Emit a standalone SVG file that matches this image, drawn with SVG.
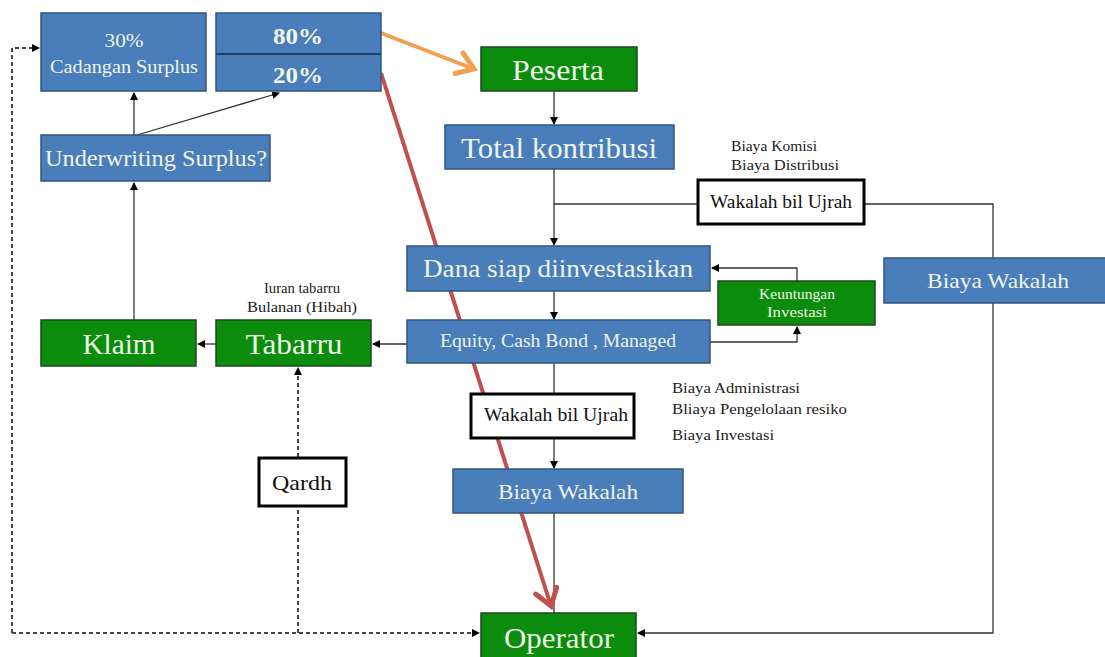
<svg xmlns="http://www.w3.org/2000/svg" width="1105" height="657" viewBox="0 0 1105 657">
<style>
.b{fill:#4a7ebb;stroke:#2f5584;stroke-width:1.5}
.g{fill:#0c8c0c;stroke:#1c4a1c;stroke-width:1.5}
.w{fill:#fff;stroke:#000;stroke-width:3}
.t{font-family:"Liberation Serif",serif;fill:#eef4e6;text-anchor:middle}
.k{font-family:"Liberation Serif",serif;fill:#111;text-anchor:middle}
.s{font-family:"Liberation Serif",serif;fill:#222;font-size:15px}
.c{fill:none;stroke:#333;stroke-width:1.3}
.d{fill:none;stroke:#444;stroke-width:2;stroke-dasharray:4 3}
</style>
<defs>
<marker id="a" markerWidth="8" markerHeight="8" refX="7" refY="4" orient="auto" markerUnits="userSpaceOnUse"><path d="M0,0L8,4L0,8z" fill="#000"/></marker>
<marker id="o" markerWidth="30" markerHeight="30" refX="24" refY="15" orient="auto" markerUnits="userSpaceOnUse"><path d="M8,4L24,15L8,26" fill="none" stroke="#f0a050" stroke-width="5" stroke-linecap="round"/></marker>
<marker id="r" markerWidth="30" markerHeight="30" refX="24" refY="15" orient="auto" markerUnits="userSpaceOnUse"><path d="M8,4L24,15L8,26" fill="none" stroke="#c0504d" stroke-width="5" stroke-linecap="round"/></marker>
</defs>
<rect width="1105" height="657" fill="#fff"/>
<g id="connectors">
<line class="c" x1="134" y1="135" x2="134" y2="93" marker-end="url(#a)"/>
<line class="c" x1="137" y1="135" x2="279" y2="93" marker-end="url(#a)"/>
<line class="c" x1="134" y1="320" x2="134" y2="183" marker-end="url(#a)"/>
<line class="c" x1="216" y1="344" x2="198" y2="344" marker-end="url(#a)"/>
<line class="c" x1="407" y1="344" x2="373" y2="344" marker-end="url(#a)"/>
<line class="c" x1="554" y1="91" x2="554" y2="124" marker-end="url(#a)"/>
<line class="c" x1="554" y1="169" x2="554" y2="245" marker-end="url(#a)"/>
<polyline class="c" points="554,204 698,204"/>
<polyline class="c" points="864,204 993,204 993,633 638,633" marker-end="url(#a)"/>
<line class="c" x1="554" y1="291" x2="554" y2="319" marker-end="url(#a)"/>
<polyline class="c" points="710,342 797,342 797,327" marker-end="url(#a)"/>
<polyline class="c" points="797,281 797,268 712,268" marker-end="url(#a)"/>
<line class="c" x1="554" y1="363" x2="554" y2="393"/>
<line class="c" x1="554" y1="438" x2="554" y2="468" marker-end="url(#a)"/>
<line class="c" x1="554" y1="513" x2="554" y2="613"/>
<polyline class="d" points="12,633 12,48 39,48" marker-end="url(#a)"/>
<polyline class="d" points="12,633 479,633" marker-end="url(#a)"/>
<polyline class="d" points="298,633 298,507"/>
<polyline class="d" points="298,457 298,368" marker-end="url(#a)"/>
<line x1="381" y1="33" x2="474" y2="69" stroke="#f0a050" stroke-width="4" marker-end="url(#o)"/>
<line x1="381" y1="73" x2="551" y2="606" stroke="#c0504d" stroke-width="4" marker-end="url(#r)"/>
</g>
<g id="n30"><rect class="b" x="41" y="13" width="165" height="78"/><text class="t" x="124" y="47" font-size="18" textLength="39" lengthAdjust="spacingAndGlyphs">30%</text><text class="t" x="124" y="73" font-size="19" textLength="148" lengthAdjust="spacingAndGlyphs">Cadangan Surplus</text></g>
<g id="n8020"><rect class="b" x="216" y="13" width="165" height="78"/><line x1="216" y1="54" x2="381" y2="54" stroke="#1f3f66" stroke-width="2"/><text class="t" x="298" y="44" font-size="23" font-weight="bold" textLength="50" lengthAdjust="spacingAndGlyphs">80%</text><text class="t" x="298" y="83" font-size="23" font-weight="bold" textLength="50" lengthAdjust="spacingAndGlyphs">20%</text></g>
<g id="nUnder"><rect class="b" x="41" y="135" width="229" height="46"/><text class="t" x="156" y="166" font-size="23" textLength="222" lengthAdjust="spacingAndGlyphs">Underwriting Surplus?</text></g>
<g id="nPeserta"><rect class="g" x="481" y="47" width="156" height="44"/><text class="t" x="558" y="80" font-size="29" textLength="92" lengthAdjust="spacingAndGlyphs">Peserta</text></g>
<g id="nTotal"><rect class="b" x="445" y="125" width="229" height="44"/><text class="t" x="559" y="158" font-size="29" textLength="196" lengthAdjust="spacingAndGlyphs">Total kontribusi</text></g>
<g id="lblKomisi"><text class="s" x="731" y="151" textLength="86" lengthAdjust="spacingAndGlyphs">Biaya Komisi</text><text class="s" x="731" y="170" textLength="108" lengthAdjust="spacingAndGlyphs">Biaya Distribusi</text></g>
<g id="nWak1"><rect class="w" x="698" y="180" width="166" height="44"/><text class="k" x="781" y="208" font-size="19" textLength="142" lengthAdjust="spacingAndGlyphs">Wakalah bil Ujrah</text></g>
<g id="nDana"><rect class="b" x="407" y="246" width="303" height="45"/><text class="t" x="558" y="277" font-size="26" textLength="270" lengthAdjust="spacingAndGlyphs">Dana siap diinvestasikan</text></g>
<g id="nKeun"><rect class="g" x="718" y="281" width="157" height="44"/><text class="t" x="797" y="299" font-size="14" textLength="76" lengthAdjust="spacingAndGlyphs">Keuntungan</text><text class="t" x="797" y="317" font-size="14" textLength="60" lengthAdjust="spacingAndGlyphs">Investasi</text></g>
<g id="nBW1"><rect class="b" x="884" y="258" width="225" height="45"/><text class="t" x="998" y="288" font-size="22" textLength="142" lengthAdjust="spacingAndGlyphs">Biaya Wakalah</text></g>
<g id="nEquity"><rect class="b" x="407" y="320" width="303" height="43"/><text class="t" x="558" y="347" font-size="19" textLength="236" lengthAdjust="spacingAndGlyphs">Equity, Cash Bond , Managed</text></g>
<g id="lblIuran"><text class="s" x="302" y="293" text-anchor="middle" textLength="76" lengthAdjust="spacingAndGlyphs">Iuran tabarru</text><text class="s" x="302" y="312" text-anchor="middle" textLength="110" lengthAdjust="spacingAndGlyphs">Bulanan (Hibah)</text></g>
<g id="nKlaim"><rect class="g" x="41" y="320" width="155" height="46"/><text class="t" x="119" y="354" font-size="30" textLength="73" lengthAdjust="spacingAndGlyphs">Klaim</text></g>
<g id="nTabarru"><rect class="g" x="216" y="320" width="155" height="46"/><text class="t" x="294" y="354" font-size="30" textLength="97" lengthAdjust="spacingAndGlyphs">Tabarru</text></g>
<g id="nWak2"><rect class="w" x="471" y="394" width="163" height="44"/><text class="k" x="556" y="421" font-size="19" textLength="144" lengthAdjust="spacingAndGlyphs">Wakalah bil Ujrah</text></g>
<g id="lblAdmin"><text class="s" x="672" y="393" textLength="128" lengthAdjust="spacingAndGlyphs">Biaya Administrasi</text><text class="s" x="672" y="414" textLength="175" lengthAdjust="spacingAndGlyphs">Bliaya Pengelolaan  resiko</text><text class="s" x="672" y="440" textLength="102" lengthAdjust="spacingAndGlyphs">Biaya Investasi</text></g>
<g id="nQardh"><rect class="w" x="259" y="458" width="87" height="48"/><text class="k" x="302" y="490" font-size="22" textLength="60" lengthAdjust="spacingAndGlyphs">Qardh</text></g>
<g id="nBW2"><rect class="b" x="453" y="469" width="230" height="44"/><text class="t" x="568" y="499" font-size="22" textLength="140" lengthAdjust="spacingAndGlyphs">Biaya Wakalah</text></g>
<g id="nOperator"><rect class="g" x="481" y="613" width="155" height="46"/><text class="t" x="559" y="648" font-size="30" textLength="110" lengthAdjust="spacingAndGlyphs">Operator</text></g>
</svg>
